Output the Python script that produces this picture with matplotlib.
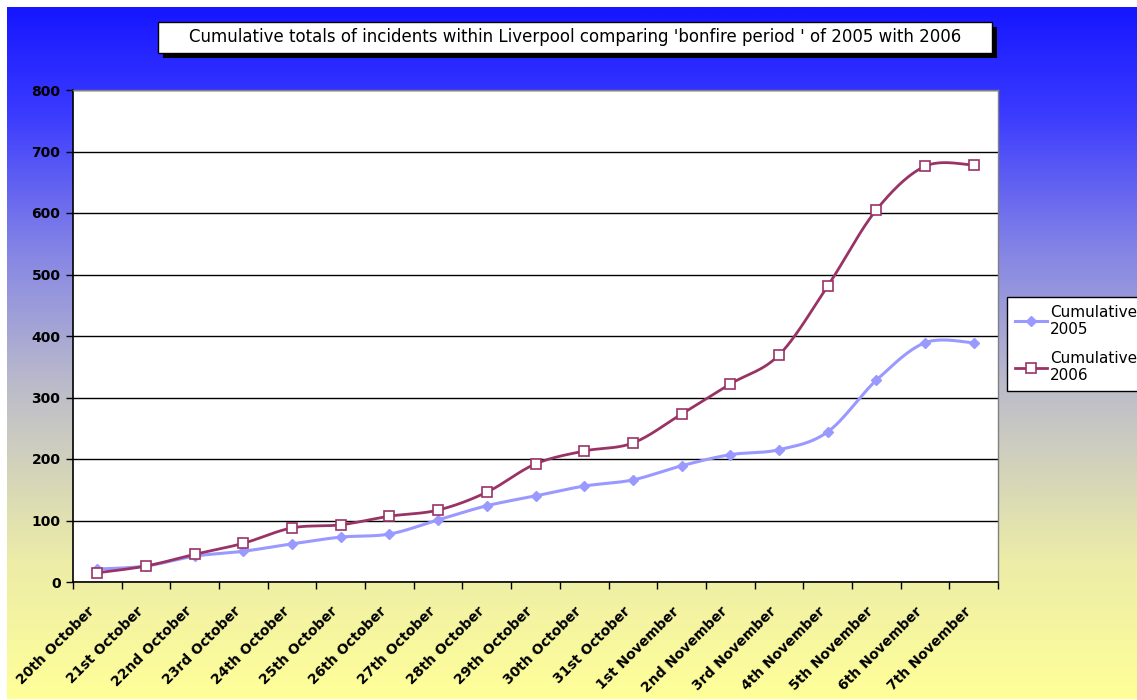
import numpy as np
import matplotlib
matplotlib.use("Agg")
import matplotlib.pyplot as plt
from matplotlib.colors import LinearSegmentedColormap
from matplotlib.patches import Rectangle

categories = ["20th October", "21st October", "22nd October", "23rd October",
              "24th October", "25th October", "26th October", "27th October",
              "28th October", "29th October", "30th October", "31st October",
              "1st November", "2nd November", "3rd November", "4th November",
              "5th November", "6th November", "7th November"]
cum_2005 = [21, 26, 42, 50, 62, 73, 78, 101, 124, 140, 156, 166, 189, 207, 215, 244, 328, 389, 389]
cum_2006 = [15, 26, 45, 63, 88, 93, 107, 117, 146, 192, 213, 226, 273, 322, 369, 481, 605, 676, 678]
series_labels = ["Cumulative\n2005", "Cumulative\n2006"]
title = "Cumulative totals of incidents within Liverpool comparing 'bonfire period ' of 2005 with 2006"
yticks = [0, 100, 200, 300, 400, 500, 600, 700, 800]

W, H = 1137, 700
fig = plt.figure(figsize=(W / 100, H / 100), dpi=100)
fig.patch.set_facecolor("white")

# gradient background
bg = fig.add_axes([7 / W, 1 / H, 1 - 7 / W, 1 - 8 / H])
bg.set_axis_off()
cmap = LinearSegmentedColormap.from_list(
    "bg", [(0.0, "#1616ff"), (0.15, "#3a3aff"), (0.35, "#8484e6"),
           (0.55, "#bcbcca"), (0.62, "#cacac2"), (0.8, "#ececa8"), (1.0, "#ffff99")])
grad = np.linspace(0, 1, 512).reshape(-1, 1)
bg.imshow(grad, aspect="auto", cmap=cmap, extent=[0, 1, 0, 1], origin="upper")
bg.set_xlim(0, 1)
bg.set_ylim(0, 1)


def smooth(xs, ys, n=30):
    xs = np.asarray(xs, float)
    ys = np.asarray(ys, float)
    P = np.column_stack([xs, ys])
    out = []
    m = len(P)
    for i in range(m - 1):
        p0 = P[i - 1] if i > 0 else P[i]
        p1 = P[i]
        p2 = P[i + 1]
        p3 = P[i + 2] if i + 2 < m else P[i + 1]
        c1 = p1 + (p2 - p0) / 6.0
        c2 = p2 - (p3 - p1) / 6.0
        t = np.linspace(0, 1, n)[:, None]
        seg = ((1 - t) ** 3) * p1 + 3 * ((1 - t) ** 2) * t * c1 + 3 * (1 - t) * t ** 2 * c2 + t ** 3 * p2
        out.append(seg if i == 0 else seg[1:])
    c = np.vstack(out)
    return c[:, 0], c[:, 1]


ax = fig.add_axes([73 / W, 1 - 582 / H, (998 - 73) / W, (582 - 90) / H])
ax.set_facecolor("white")
x = np.arange(len(categories))

c05 = "#9999ff"
c06 = "#993366"
sx, sy = smooth(x, cum_2005)
ax.plot(sx, sy, color=c05, lw=2.2, zorder=3, solid_capstyle="round")
ax.plot(x, cum_2005, ls="none", marker="D", ms=5.5, color=c05, mec=c05, zorder=4)
sx, sy = smooth(x, cum_2006)
ax.plot(sx, sy, color=c06, lw=2.0, zorder=5, solid_capstyle="round")
ax.plot(x, cum_2006, ls="none", marker="s", ms=6.5, mfc="white", mec=c06, mew=1.2, zorder=6)

# legend proxies
h1, = ax.plot([], [], color=c05, lw=2.2, marker="D", ms=5.5, mec=c05)
h2, = ax.plot([], [], color=c06, lw=2.0, marker="s", ms=6.5, mfc="white", mec=c06, mew=1.2)

ax.set_xlim(-0.5, len(categories) - 0.5)
ax.set_ylim(0, 800)
ax.set_yticks(yticks)
ax.set_yticklabels([str(v) for v in yticks], fontsize=10, fontweight="bold")
ax.yaxis.grid(True, color="black", lw=1)
ax.set_axisbelow(True)
ax.set_xticks(x)
ax.set_xticklabels(categories, rotation=45, ha="right", va="top",
                   fontsize=10, fontweight="bold")
ax.set_xticks(np.arange(-0.5, len(categories)), minor=True)
ax.tick_params(axis="x", which="major", length=0, pad=16)
ax.tick_params(axis="x", which="minor", length=5, width=1, color="black", direction="out")
ax.tick_params(axis="y", length=5, width=1, color="black", direction="out", pad=4)
for s in ["top", "right"]:
    ax.spines[s].set_color("#808080")
    ax.spines[s].set_linewidth(1)
for s in ["left", "bottom"]:
    ax.spines[s].set_color("black")
    ax.spines[s].set_linewidth(1.2)

leg = fig.legend([h1, h2], series_labels, loc="upper left",
                 bbox_to_anchor=(1007 / W, 1 - 297 / H), frameon=True,
                 fancybox=False, fontsize=11, handlelength=2.1, borderpad=0.5,
                 labelspacing=0.9, handletextpad=0.2, borderaxespad=0)
leg.get_frame().set_edgecolor("black")
leg.get_frame().set_linewidth(1)
leg.get_frame().set_facecolor("white")
leg.get_frame().set_alpha(1)

# title box with shadow
tx0, ty0, tx1, ty1 = 158, 22, 992, 53
fig.patches.append(Rectangle(((tx0 + 5) / W, 1 - (ty1 + 5) / H), (tx1 - tx0) / W, (ty1 - ty0) / H,
                             transform=fig.transFigure, facecolor="black", edgecolor="none", zorder=1))
fig.patches.append(Rectangle((tx0 / W, 1 - ty1 / H), (tx1 - tx0) / W, (ty1 - ty0) / H,
                             transform=fig.transFigure, facecolor="white", edgecolor="black",
                             lw=1, zorder=2))
fig.text((tx0 + tx1) / 2 / W, 1 - (ty0 + ty1) / 2 / H, title, ha="center", va="center",
         fontsize=12, color="black", zorder=3)

fig.savefig("out.png", dpi=100, facecolor=fig.get_facecolor())
